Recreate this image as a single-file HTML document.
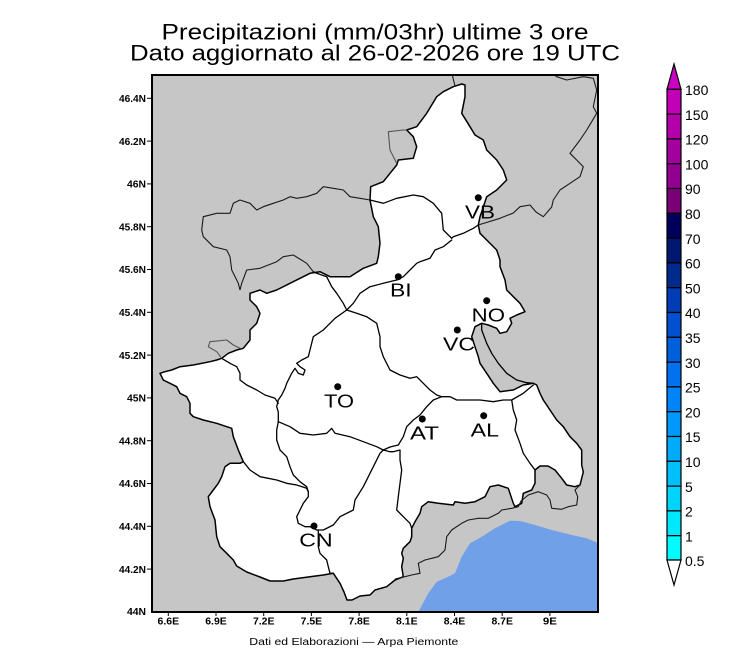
<!DOCTYPE html>
<html>
<head>
<meta charset="utf-8">
<style>
  html, body { margin:0; padding:0; background:#ffffff; }
  svg { display:block; }
  text { font-family: "Liberation Sans", "DejaVu Sans", sans-serif; }
</style>
</head>
<body>
<svg width="750" height="650" viewBox="0 0 750 650" xmlns="http://www.w3.org/2000/svg">
  <rect x="0" y="0" width="750" height="650" fill="#ffffff"/>

  <!-- Title -->
  <text x="375" y="39.5" font-size="22" text-anchor="middle" textLength="427" lengthAdjust="spacingAndGlyphs" fill="#000">Precipitazioni (mm/03hr) ultime 3 ore</text>
  <text x="375" y="60.5" font-size="22" text-anchor="middle" textLength="490" lengthAdjust="spacingAndGlyphs" fill="#000">Dato aggiornato al 26-02-2026 ore 19 UTC</text>

  <defs>
    <clipPath id="mapclip"><rect x="152" y="75" width="446" height="537"/></clipPath>
  </defs>

  <g clip-path="url(#mapclip)">
    <!-- background gray -->
    <rect x="152" y="75" width="446" height="537" fill="#c6c6c6"/>
    <!-- sea -->
    <polygon fill="#70a0e8" points="418.3,612 428.3,593.3 436.7,581.7 445,578.3 455,573.3 461.7,556.7 470,543.3 481.7,536.7 495,528.3 510,520.7 520,521 535,525 551.7,530 571.7,535 586.7,538.3 598,543 598,612"/>

    <!-- Piemonte white region -->
    <polygon fill="#ffffff" stroke="#000" stroke-width="1.5" stroke-linejoin="round" points="
461.7,84 465,85 465,96.7 461.7,113.3 470,126.7 475,135 483.3,140 486.7,150 496.7,160 503.3,170 506.7,180 496.7,190 486.7,196.7 480,216.7 478.3,225
480,233.3 486.7,240 496.7,250 500,260 500,266.7 505,280 506.7,290 513.3,296.7 520,303.3 525,311.7 516.7,315 510,318.3 511.7,323.3 506.7,331.7 500,333.3 496.7,328.3 488.3,325 481.7,323.3 475,326.7
471.7,336.7 475,346.7 478.3,356.7 480,363.3 486.7,373.3 493.3,383.3 500,391.7 513.3,390 523.3,385 533.3,383.3
536.7,385 540,393.3 543.3,400 550,410 556.7,420 563.3,426.7 570,436.7 576.7,443.3 581.7,450 581.7,465 583.3,472 580,485 575,486.7 566.7,485 561.7,478.3 555,470 548,466 540,466 535,470 535,483.3 531.7,490 523.3,493.3 521.7,503.3 515,506.7 513.3,503.3 508.3,488.3 498.3,485 490,486.7 485,496.7 475,501.7 465,503.3 455,501.7 453.3,505 438.3,503.3 428.3,501.7 421.7,506.7 420,513.3 415,521.7 411.7,528.3 411.7,536.7 410,541.7 403.3,548.3 401.7,553.3 403.3,558.3 401.7,566.7 403.3,576.7 395,580 386.7,586.7 375,590 370,595 360,596 352,600 347,600 344,592 340,583.3 333.3,573.3 323.3,575 310,576.7 293.3,579 283.3,581 270,581 260,577 246.7,572 236.7,566 233.3,560 226.7,553.3 220,546.7 216.7,536.7 215,520 210,506.7 208.3,496.7 213.3,490 218.3,483.3 221.7,476.7 225,466.7 230,463.3 240,463.3 243.3,461.7
238.3,450 233.3,436.7 231.7,428.3 226.7,426.7 216.7,423.3 203.3,420 193.3,416.7 190,413.3 190,403.3 186.7,396.7 180,393.3 176.7,386.7 170,383.3 163.3,380 160,373.3 165,371.7 171.7,370 180,366.7 193.3,365 210,361.7 216.7,360 221.7,358.3 228.3,353.3 236.7,350 243.3,348.3 250,340 250,330 256.7,323.3 260,313.3 256.7,306.7 250,300 250,293.3 260,290 266.7,293.3 276.7,290 290,283.3 300,278.3 310,273.3 320,271.7 330,276.7 340,276.7 350,276.7 363.3,268.3 376.7,263.3 378.3,256.7 380,243.3 378.3,226.7 373.3,216.7 370,200 370.7,186.7 383.3,181.7 390,173.3 396.7,165 398.3,160 413.3,158.3 416.7,146.7 413.3,136.7 406.7,130 416.7,126.7 426.7,113.3 436.7,96.7 443.3,91.7 453.3,86.7"/>

    <g fill="none" stroke="#000" stroke-width="1.3" stroke-linejoin="round" stroke-linecap="round">
      <!-- L1 VB south border -->
      <polyline points="370,200 383.3,203.3 396.7,198.3 413.3,195 423.3,196.7 433.3,203.3 441.7,213.3 443.3,230 451.7,238.3 453.3,236.7 463.3,233.3 473.3,228.3 478.3,225"/>
      <!-- L2 -->
      <polyline points="451.7,240 443.3,246.7 435,250 430,258.3 420,261.7 416.7,263.3 410,270 403.3,276.7 396.7,280 383.3,283.3 370,286.7 360,293.3 353.3,303.3 346.7,310"/>
      <!-- L3 -->
      <polyline points="313.3,271.7 316.7,273.3 326.7,276.7 331.7,286.7 336.7,293.3 343.3,303.3 346.7,310"/>
      <!-- L4 -->
      <polyline points="346.7,310 335,318.3 330,323.3 323.3,330 313.3,336.7 310,350 308.3,356.7 301.7,360 296.7,363.3 300,366.7 305,370 303.3,375 298.3,373.3 295,368.3 291.7,373.3 286.7,383.3 285,388.3 281.7,395 278.3,400 276.7,406.7 278.3,412 278.3,421.7"/>
      <!-- L6 -->
      <polyline points="221.7,358.3 230,363.3 236.7,366.7 240,373.3 240,380 246.7,385 256.7,390 265,395 275,398.3 278.3,403.3"/>
      <!-- L5 -->
      <polyline points="278.3,421.7 290,426.7 300,433.3 313.3,435 326.7,433.3 331.7,428.3 335,433.3 350,436.7 363.3,441.7 376.7,446.7 383.3,450 390,451.7"/>
      <!-- L7 -->
      <polyline points="278.3,421.7 276.7,430 276.7,440 280,450 286.7,456.7 290,466.7 293.3,475 300,481.7 306.7,486.7 308.3,491.7 308.3,496.7 303.3,503.3 300,510 296.7,516.7 298.3,523.3 305,526.7 310,526.7 316.7,530 323.3,530 333.3,525 340,516.7 353.3,510 355,500 363.3,486.7 370,473.3 375,463.3 380,453.3 383.3,450"/>
      <!-- L9 -->
      <polyline points="243.3,461.7 250,470 260,476.7 276.7,480 286.7,483.3 296.7,485 306.7,488.3 308.3,491.7"/>
      <!-- L10 -->
      <polyline points="318.3,530 318.3,546.7 320,553.3 326.7,560 328.3,566.7 330,573.3 333.3,573.3"/>
      <!-- L11 -->
      <polyline points="390,451.7 393.3,451.7 400,450 400,460 401.7,470 400,483.3 398.3,496.7 396.7,510 403.3,516.7 410,523.3 411.7,528.3"/>
      <!-- L12 -->
      <polyline points="383.3,450 390,447 398.3,445 403.3,436.7 406.7,426.7 413.3,420 420,415 426.7,406.7 433.3,400 441.7,396.7 450,396.7 456.7,400 466.7,400 480,400 493.3,401.7 503.3,400 511.7,400 523.3,393.3 533.3,385"/>
      <!-- L13 -->
      <polyline points="346.7,310 356.7,313.3 366.7,316.7 376.7,323.3 380,336.7 380,346.7 383.3,356.7 390,370 400,375 410,378.3 416.7,376.7 423.3,383.3 430,390 436.7,395 441.7,396.7"/>
      <!-- L14 -->
      <polyline points="511.7,400 513.3,410 516.7,420 515,430 520,443.3 523.3,453.3 530,463.3 535,470"/>
      <!-- strip east border -->
      <polyline points="481.7,323.3 481.7,330 486.7,343.3 491.7,353.3 498.3,363.3 506.7,373.3 516.7,380 526.7,382.7 533.3,383.3"/>
    </g>

    <g fill="none" stroke="#1a1a1a" stroke-width="1.1" stroke-linejoin="round">
      <!-- Aosta outline -->
      <polyline points="240,290 238.3,283.3 231.7,270 230,256.7 226.7,250 213.3,246.7 203.3,236.7 201.7,230 203.3,216.7 216.7,213.3 230,213.3 233.3,203.3 240,200 250,203.3 256.7,210 263.3,206.7 273.3,203.3 283.3,200 290,196.7 296.7,198.3 306.7,196.7 316.7,193.3 323.3,186.7 333.3,188.3 343.3,190 350,196.7 360,198.3 370,200"/>
      <polyline points="240,290 241.7,283.3 246.7,270 260,268.3 276.7,261.7 283.3,256.7 293.3,255 306.7,263.3 313.3,271.7"/>
      <!-- Swiss / Lombardy borders NE -->
      <polyline points="478.3,225 500,218.3 513.3,213 520,206.7 530,205 536,212 543.3,216.7 551.7,207 553.3,200 560,190 570,183.3 580,176.7 583.3,166.7 576.7,160 570,153.3 580,140 586.7,130 596.7,113.3 593.3,106.7 596.7,90 593.3,78.3 583.3,76.7 566.7,80 556.7,76.7 553,74"/>
      <polyline points="452,74 455,86"/>
      <!-- Liguria line -->
      <polyline points="395,579 405,576.7 411.7,575 420,573.3 418.3,563.3 425,560 431.7,558.3 438.3,556.7 445,550 446.7,536.7 451.7,530 461.7,523.3 468.3,520 478.3,518.3 488.3,518.3 498.3,513.3 501.7,510 511.7,508.3 518.3,506.7 521,501 528.3,495 538.3,491.7 546.7,495 550,500 551.7,508.3 561.7,509.3 568.3,506.7 576.7,505 577.7,496.7 575,490 580,485"/>
    </g>
    <g fill="none" stroke="#555" stroke-width="1.1" stroke-linejoin="round">
      <!-- Swiss lobe -->
      <polyline points="396.7,163.3 390,150 388.3,131.7 403.3,130 406.7,130"/>
      <!-- small west lobe -->
      <polyline points="221.7,358.3 216.7,351.7 208.3,346.7 210,341.7 226.7,340 233.3,345 240,348.3"/>
    </g>

    <!-- city dots -->
    <g fill="#000">
      <circle cx="478.3" cy="197.7" r="3.5"/>
      <circle cx="398.3" cy="276.7" r="3.5"/>
      <circle cx="486.7" cy="300.7" r="3.5"/>
      <circle cx="457.3" cy="330" r="3.5"/>
      <circle cx="337.7" cy="386.7" r="3.5"/>
      <circle cx="422.3" cy="419" r="3.5"/>
      <circle cx="483.7" cy="415.7" r="3.5"/>
      <circle cx="314" cy="526" r="3.5"/>
    </g>
    <g font-size="18" fill="#000">
      <text x="465" y="218.3" textLength="30" lengthAdjust="spacingAndGlyphs">VB</text>
      <text x="390" y="296.7" textLength="21.7" lengthAdjust="spacingAndGlyphs">BI</text>
      <text x="471.7" y="321.7" textLength="33.3" lengthAdjust="spacingAndGlyphs">NO</text>
      <text x="443" y="350.7" textLength="32" lengthAdjust="spacingAndGlyphs">VC</text>
      <text x="324" y="407.3" textLength="30" lengthAdjust="spacingAndGlyphs">TO</text>
      <text x="410" y="439.3" textLength="29" lengthAdjust="spacingAndGlyphs">AT</text>
      <text x="470.7" y="436.7" textLength="28.3" lengthAdjust="spacingAndGlyphs">AL</text>
      <text x="299.3" y="546.7" textLength="33.3" lengthAdjust="spacingAndGlyphs">CN</text>
    </g>
  </g>

  <!-- frame -->
  <rect x="152" y="75" width="446" height="537" fill="none" stroke="#000" stroke-width="2"/>

  <!-- Y ticks & labels -->
  <g stroke="#000" stroke-width="1">
    <line x1="147" y1="98.3" x2="152" y2="98.3"/>
    <line x1="147" y1="141.1" x2="152" y2="141.1"/>
    <line x1="147" y1="183.9" x2="152" y2="183.9"/>
    <line x1="147" y1="226.7" x2="152" y2="226.7"/>
    <line x1="147" y1="269.5" x2="152" y2="269.5"/>
    <line x1="147" y1="312.3" x2="152" y2="312.3"/>
    <line x1="147" y1="355.1" x2="152" y2="355.1"/>
    <line x1="147" y1="397.9" x2="152" y2="397.9"/>
    <line x1="147" y1="440.7" x2="152" y2="440.7"/>
    <line x1="147" y1="483.5" x2="152" y2="483.5"/>
    <line x1="147" y1="526.3" x2="152" y2="526.3"/>
    <line x1="147" y1="569.1" x2="152" y2="569.1"/>
    <line x1="168.3" y1="612" x2="168.3" y2="616"/>
    <line x1="216" y1="612" x2="216" y2="616"/>
    <line x1="263.7" y1="612" x2="263.7" y2="616"/>
    <line x1="311.4" y1="612" x2="311.4" y2="616"/>
    <line x1="359.1" y1="612" x2="359.1" y2="616"/>
    <line x1="406.8" y1="612" x2="406.8" y2="616"/>
    <line x1="454.5" y1="612" x2="454.5" y2="616"/>
    <line x1="502.2" y1="612" x2="502.2" y2="616"/>
    <line x1="549.9" y1="612" x2="549.9" y2="616"/>
  </g>
  <g font-size="10.5" font-weight="bold" fill="#000" text-anchor="end">
    <text x="146" y="102" textLength="27" lengthAdjust="spacingAndGlyphs">46.4N</text>
    <text x="146" y="144.8" textLength="27" lengthAdjust="spacingAndGlyphs">46.2N</text>
    <text x="146" y="187.6" textLength="19" lengthAdjust="spacingAndGlyphs">46N</text>
    <text x="146" y="230.4" textLength="27" lengthAdjust="spacingAndGlyphs">45.8N</text>
    <text x="146" y="273.2" textLength="27" lengthAdjust="spacingAndGlyphs">45.6N</text>
    <text x="146" y="316" textLength="27" lengthAdjust="spacingAndGlyphs">45.4N</text>
    <text x="146" y="358.8" textLength="27" lengthAdjust="spacingAndGlyphs">45.2N</text>
    <text x="146" y="401.6" textLength="19" lengthAdjust="spacingAndGlyphs">45N</text>
    <text x="146" y="444.4" textLength="27" lengthAdjust="spacingAndGlyphs">44.8N</text>
    <text x="146" y="487.2" textLength="27" lengthAdjust="spacingAndGlyphs">44.6N</text>
    <text x="146" y="530" textLength="27" lengthAdjust="spacingAndGlyphs">44.4N</text>
    <text x="146" y="572.8" textLength="27" lengthAdjust="spacingAndGlyphs">44.2N</text>
    <text x="146" y="615.2" textLength="19" lengthAdjust="spacingAndGlyphs">44N</text>
  </g>
  <g font-size="10.5" font-weight="bold" fill="#000" text-anchor="middle">
    <text x="168.3" y="624.5" textLength="21.5" lengthAdjust="spacingAndGlyphs">6.6E</text>
    <text x="216" y="624.5" textLength="21.5" lengthAdjust="spacingAndGlyphs">6.9E</text>
    <text x="263.7" y="624.5" textLength="21.5" lengthAdjust="spacingAndGlyphs">7.2E</text>
    <text x="311.4" y="624.5" textLength="21.5" lengthAdjust="spacingAndGlyphs">7.5E</text>
    <text x="359.1" y="624.5" textLength="21.5" lengthAdjust="spacingAndGlyphs">7.8E</text>
    <text x="406.8" y="624.5" textLength="21.5" lengthAdjust="spacingAndGlyphs">8.1E</text>
    <text x="454.5" y="624.5" textLength="21.5" lengthAdjust="spacingAndGlyphs">8.4E</text>
    <text x="502.2" y="624.5" textLength="21.5" lengthAdjust="spacingAndGlyphs">8.7E</text>
    <text x="549.9" y="624.5" textLength="14" lengthAdjust="spacingAndGlyphs">9E</text>
  </g>

  <!-- footer -->
  <text x="249.3" y="645" font-size="10" textLength="209" lengthAdjust="spacingAndGlyphs" fill="#000">Dati ed Elaborazioni — Arpa Piemonte</text>

  <!-- Colorbar -->
  <g stroke="#000" stroke-width="1.2">
    <polygon points="667,89.3 681,89.3 674,64" fill="#cc00c0"/>
    <rect x="667" y="89.3" width="14" height="24.8" fill="#c200b6"/>
    <rect x="667" y="114.1" width="14" height="24.8" fill="#b400aa"/>
    <rect x="667" y="138.9" width="14" height="24.8" fill="#a4009e"/>
    <rect x="667" y="163.7" width="14" height="24.8" fill="#920090"/>
    <rect x="667" y="188.5" width="14" height="24.8" fill="#7a0078"/>
    <rect x="667" y="213.3" width="14" height="24.8" fill="#00005a"/>
    <rect x="667" y="238.1" width="14" height="24.8" fill="#001870"/>
    <rect x="667" y="262.9" width="14" height="24.8" fill="#002a8c"/>
    <rect x="667" y="287.7" width="14" height="24.8" fill="#003cb4"/>
    <rect x="667" y="312.5" width="14" height="24.8" fill="#0050d0"/>
    <rect x="667" y="337.3" width="14" height="24.8" fill="#0060dc"/>
    <rect x="667" y="362.1" width="14" height="24.8" fill="#0072f0"/>
    <rect x="667" y="386.9" width="14" height="24.8" fill="#0084fa"/>
    <rect x="667" y="411.7" width="14" height="24.8" fill="#0098fa"/>
    <rect x="667" y="436.5" width="14" height="24.8" fill="#00acfa"/>
    <rect x="667" y="461.3" width="14" height="24.8" fill="#00c0fa"/>
    <rect x="667" y="486.1" width="14" height="24.8" fill="#00d4fa"/>
    <rect x="667" y="510.9" width="14" height="24.8" fill="#00e8fc"/>
    <rect x="667" y="535.7" width="14" height="24.3" fill="#00fcfc"/>
    <polygon points="667,560 681,560 674,585" fill="#ffffff"/>
  </g>
  <g font-size="14" fill="#000">
    <text x="685" y="95">180</text>
    <text x="685" y="119.8">150</text>
    <text x="685" y="144.6">120</text>
    <text x="685" y="169.4">100</text>
    <text x="685" y="194.2">90</text>
    <text x="685" y="219">80</text>
    <text x="685" y="243.8">70</text>
    <text x="685" y="268.6">60</text>
    <text x="685" y="293.4">50</text>
    <text x="685" y="318.2">40</text>
    <text x="685" y="343">35</text>
    <text x="685" y="367.8">30</text>
    <text x="685" y="392.6">25</text>
    <text x="685" y="417.4">20</text>
    <text x="685" y="442.2">15</text>
    <text x="685" y="467">10</text>
    <text x="685" y="491.8">5</text>
    <text x="685" y="516.6">2</text>
    <text x="685" y="541.4">1</text>
    <text x="685" y="566">0.5</text>
  </g>
</svg>
</body>
</html>
